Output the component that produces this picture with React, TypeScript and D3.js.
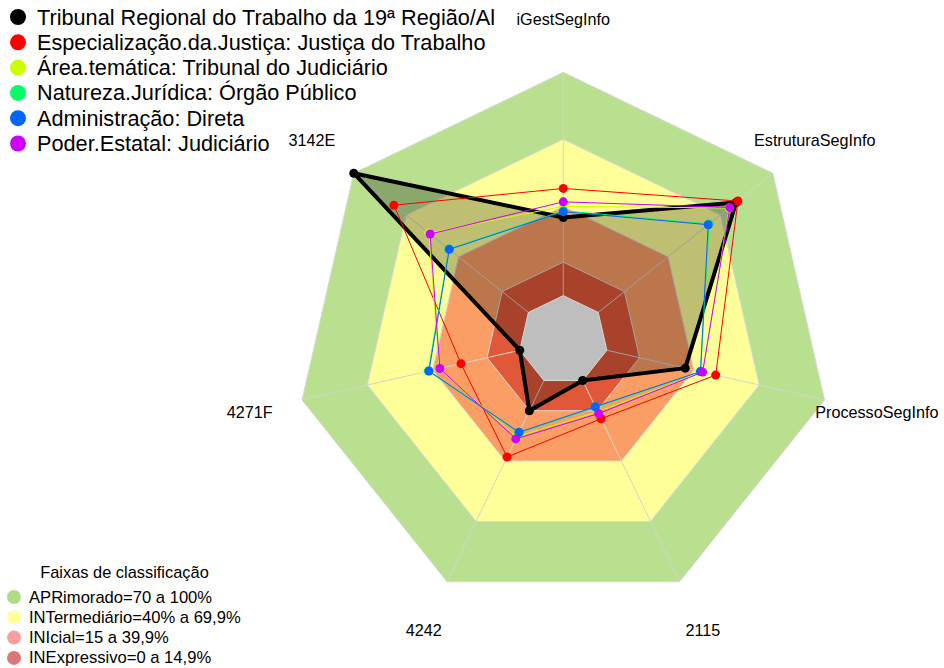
import * as d3 from "d3";
import { useEffect, useRef } from "react";

// eixos do radar (sentido horário a partir do topo)
const axes = ["iGestSegInfo", "EstruturaSegInfo", "ProcessoSegInfo", "2115", "4242", "4271F", "3142E"];

// valores (0 a 100)
const trt19 = [35, 79, 36, 0, 15, 0, 100];
const especializacao = [48, 80, 50, 19, 38, 27, 77];
const areaTematica = [40, 75, 44, 15.5, 28, 37, 57];
const natureza = [38, 63.5, 43, 13.3, 26, 42, 45.5];
const administracao = [37.6, 63, 43, 13, 25.7, 41.7, 45.3];
const poderEstatal = [42, 75.4, 44, 16.4, 29, 36.7, 56.3];

const seriesNames = [
  "Tribunal Regional do Trabalho da 19ª Região/Al",
  "Especialização.da.Justiça: Justiça do Trabalho",
  "Área.temática: Tribunal do Judiciário",
  "Natureza.Jurídica: Órgão Público",
  "Administração: Direta",
  "Poder.Estatal: Judiciário",
];
const seriesValues = [trt19, especializacao, areaTematica, natureza, administracao, poderEstatal];
const seriesColors = ["#000000", "#FF0000", "#CCFF00", "#00FF66", "#0066FF", "#CC00FF"];

// faixas de classificação
const bandBreaks = [100, 70, 40, 15];
const bandColors = ["#b9e08f", "#ffff99", "#fa9e66", "#e05838"];
const bandLabels = [
  "APRimorado=70 a 100%",
  "INTermediário=40% a 69,9%",
  "INIcial=15 a 39,9%",
  "INExpressivo=0 a 14,9%",
];
const bandLegendColors = ["#b0dc88", "#ffff9c", "#f8a0a0", "#d87878"];

const App = () => {
  const svgRef = useRef<SVGSVGElement>(null);

  useEffect(() => {
    const w = 944;
    const h = 668;
    const cx = 563.3;
    const cy = 340.3;
    const R = 268;
    const font = "Liberation Sans, Arial, sans-serif";
    const svg = d3.select(svgRef.current).attr("width", w).attr("height", h);
    svg.selectAll("*").remove();

    const n = axes.length;
    const angle = d3.scaleLinear().domain([0, n]).range([-Math.PI / 2, (3 * Math.PI) / 2]);
    const rScale = d3.scaleLinear().domain([0, 100]).range([R / 6, R]);
    const pt = (i: number, r: number): [number, number] => [
      cx + r * Math.cos(angle(i)),
      cy + r * Math.sin(angle(i)),
    ];
    const closed = d3.line().curve(d3.curveLinearClosed);

    // faixas
    bandBreaks.forEach((b, j) => {
      svg.append("path")
        .attr("d", closed(axes.map((_, i) => pt(i, rScale(b)))))
        .attr("fill", bandColors[j])
        .attr("stroke", "#d8d8d8")
        .attr("stroke-width", 1);
    });

    // eixos
    axes.forEach((_, i) => {
      const [x, y] = pt(i, R);
      svg.append("line")
        .attr("x1", cx).attr("y1", cy).attr("x2", x).attr("y2", y)
        .attr("stroke", "#d3d3d3").attr("stroke-width", 1);
    });

    // preenchimento da série principal
    const pts0 = trt19.map((v, i) => pt(i, rScale(v)));
    svg.append("path").attr("d", closed(pts0)).attr("fill", "rgba(0,0,0,0.25)");

    // centro cinza
    svg.append("path")
      .attr("d", closed(axes.map((_, i) => pt(i, rScale(0)))))
      .attr("fill", "#bebebe")
      .attr("stroke", "#d8d8d8");

    // séries
    seriesValues.forEach((vals, s) => {
      const pts = vals.map((v, i) => pt(i, rScale(v)));
      svg.append("path")
        .attr("d", closed(pts))
        .attr("fill", "none")
        .attr("stroke", seriesColors[s])
        .attr("stroke-width", s === 0 ? 4 : 1)
        .attr("stroke-linejoin", "round");
      svg.selectAll(null)
        .data(pts)
        .join("circle")
        .attr("cx", (d) => d[0])
        .attr("cy", (d) => d[1])
        .attr("r", 4.5)
        .attr("fill", seriesColors[s]);
    });

    // rótulos dos eixos
    axes.forEach((a, i) => {
      const [x, y] = pt(i, R * 1.2);
      svg.append("text")
        .attr("x", x).attr("y", y)
        .attr("text-anchor", "middle")
        .attr("dominant-baseline", "central")
        .attr("font-family", font)
        .attr("font-size", 16.2)
        .text(a);
    });

    // legenda das séries
    const leg = svg.append("g").attr("font-family", font);
    seriesNames.forEach((name, s) => {
      const y = 17 + s * 25.3;
      leg.append("circle").attr("cx", 18).attr("cy", y).attr("r", 8).attr("fill", seriesColors[s]);
      leg.append("text")
        .attr("x", 37).attr("y", y)
        .attr("dominant-baseline", "central")
        .attr("font-size", 21.7)
        .text(name);
    });

    // legenda das faixas
    const leg2 = svg.append("g").attr("font-family", font);
    leg2.append("text")
      .attr("x", 124.5).attr("y", 572)
      .attr("text-anchor", "middle")
      .attr("dominant-baseline", "central")
      .attr("font-size", 16.4)
      .text("Faixas de classificação");
    bandLabels.forEach((lab, j) => {
      const y = 597 + j * 20.3;
      leg2.append("circle").attr("cx", 14).attr("cy", y).attr("r", 7).attr("fill", bandLegendColors[j]);
      leg2.append("text")
        .attr("x", 29).attr("y", y)
        .attr("dominant-baseline", "central")
        .attr("font-size", 16.6)
        .text(lab);
    });
  }, []);

  return (
    <div style={{ position: "absolute", left: 0, top: 0 }}>
      <svg ref={svgRef}></svg>
    </div>
  );
};

export default App;
